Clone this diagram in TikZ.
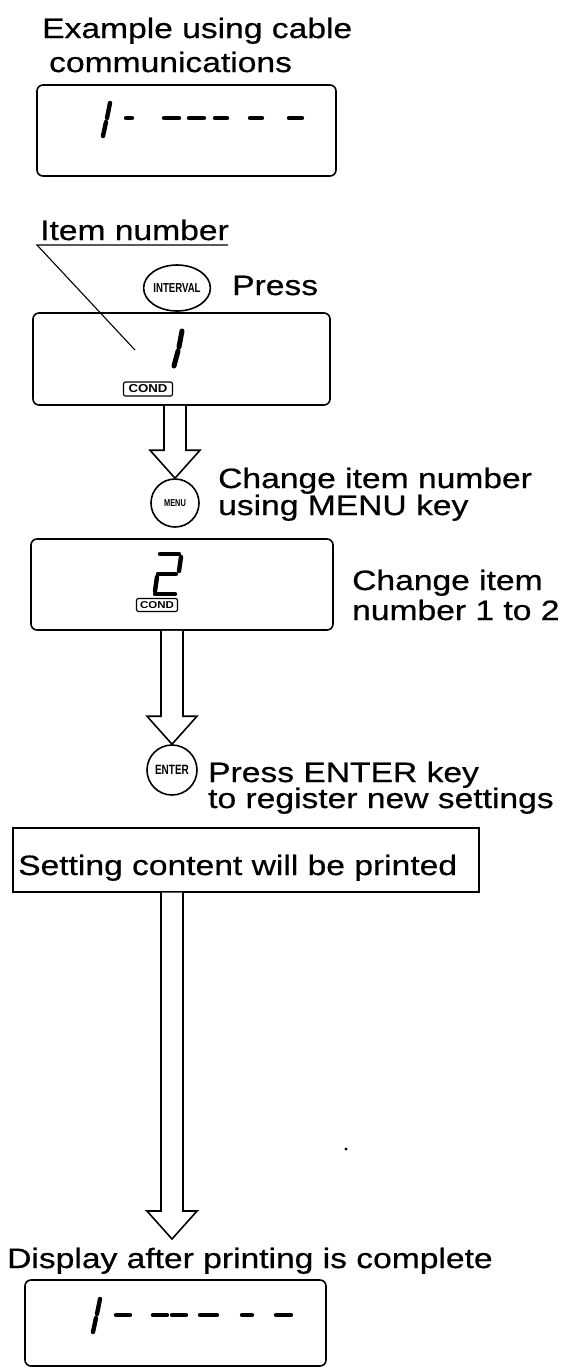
\documentclass[tikz,border=0pt]{standalone}
\usepackage{fontspec}
\setmainfont{Liberation Sans}[FakeStretch=1.2,FakeBold=0.6]
\newfontfamily\keyfont{Liberation Sans Bold}[FakeStretch=0.74]
\newfontfamily\condfont{Liberation Sans Bold}[FakeStretch=1.15]
\usetikzlibrary{calc,shapes.geometric}
\tikzset{
  lbl/.style={anchor=base west, inner sep=0pt, font=\fontsize{28}{28}\selectfont},
  disp/.style={draw, line width=1.6pt, rounded corners=6pt, inner sep=0pt},
  plainbox/.style={draw, line width=1.4pt, inner sep=0pt},
  seg/.style={line width=4.4pt, line cap=round},
  condlbl/.style={draw, line width=1.2pt, rounded corners=2pt, inner sep=0.5pt},
  keycirc/.style={draw, circle, line width=1.6pt, inner sep=0pt},
  hollow/.style={draw, line width=1.6pt, line join=miter, fill=white},
}
\newcommand\blockarrow[2]{%
  \draw[hollow] let \p1=(#1), \p2=(#2) in
    (\x1-11pt,\y1) -- (\x1-11pt,\y2+28pt) -- (\x1-25pt,\y2+28pt) -- (\x2,\y2)
    -- (\x1+25pt,\y2+28pt) -- (\x1+11pt,\y2+28pt) -- (\x1+11pt,\y1);}
\begin{document}
\begin{tikzpicture}[x=1pt,y=-1pt]
\useasboundingbox (0,0) rectangle (578,1368);

% --- top: example
\node[lbl] (t1) at (42,38) {Example using cable};
\node[lbl] (t2) at (49,72) {communications};
\node[disp, minimum width=299pt, minimum height=91pt] (b1) at (186.5,130.5) {};
\draw[seg] (110,103) -- (107,118);
\draw[seg] (106,122) -- (103,136);
\foreach \a/\b in {126/132,164/179,189/204,215/227,250/262,289/302}
  \draw[seg] (\a,118) -- (\b,118);

% --- item number
\node[lbl] (itm) at (40,240) {Item number};
\coordinate (ul) at (37,245);
\coordinate (ur) at (228,245);
\coordinate (ptr) at (135,350);
\draw[line width=1.1pt] (ur) -- (ul) -- (ptr);

\node[draw, ellipse, line width=1.6pt, minimum width=60pt, minimum height=46pt,
  inner sep=0pt, font=\keyfont\fontsize{13}{13}\selectfont] (iv) at (177,288) {INTERVAL};
\node[lbl] (press) at (232,295) {Press};

\node[disp, minimum width=297pt, minimum height=92pt] (b2) at (181.5,359) {};
\draw[seg, line width=5pt] (182,331) -- (179,347);
\draw[seg, line width=5pt] (178,351) -- (174,366);
\node[condlbl, minimum width=49pt, minimum height=14pt,
  font=\condfont\fontsize{11.5}{11.5}\selectfont] (cond1) at (148,389) {COND};

% --- MENU
\node[keycirc, minimum size=48pt, font=\keyfont\fontsize{10}{10}\selectfont] (menu) at (175,503) {MENU};
\blockarrow{menu.north |- b2.south}{menu.north}
\node[lbl] (ch1) at (218,488) {Change item number};
\node[lbl] (ch2) at (218,515) {using MENU key};

\node[disp, minimum width=302pt, minimum height=91pt] (b3) at (182,584.5) {};
\draw[seg] (160,554) -- (179,554);
\draw[seg] (181,557) -- (179,571);
\draw[seg] (158,574) -- (176,574);
\draw[seg] (157,577) -- (155,591);
\draw[seg] (155,594) -- (175,594);
\node[condlbl, minimum width=41pt, minimum height=13pt,
  font=\condfont\fontsize{10}{10}\selectfont] (cond2) at (157,605) {COND};
\node[lbl] (c3) at (352,590) {Change item};
\node[lbl] (c4) at (352,620) {number 1 to 2};

% --- ENTER
\node[keycirc, minimum size=50pt, font=\keyfont\fontsize{13.5}{13.5}\selectfont] (enter) at (172,770) {ENTER};
\blockarrow{enter.north |- b3.south}{enter.north}
\node[lbl] (e1) at (208,782) {Press ENTER key};
\node[lbl] (e2) at (208,808) {to register new settings};

\node[plainbox, minimum width=466pt, minimum height=64pt] (b4) at (246,860) {};
\node[lbl] (set) at (18,875) {Setting content will be printed};

% --- final
\coordinate (tip3) at (172,1239);
\blockarrow{tip3 |- b4.south}{tip3}
\fill (346,1149) circle (1.6pt);

\node[lbl] (dsp) at (7,1268) {Display after printing is complete};
\node[disp, minimum width=301pt, minimum height=86pt] (b5) at (175.5,1323) {};
\draw[seg] (100,1299) -- (97,1314);
\draw[seg] (96,1318) -- (93,1332);
\foreach \a/\b in {116/130,153/167,172/186,200/217,242/252,276/291}
  \draw[seg] (\a,1315) -- (\b,1315);
\end{tikzpicture}
\end{document}
